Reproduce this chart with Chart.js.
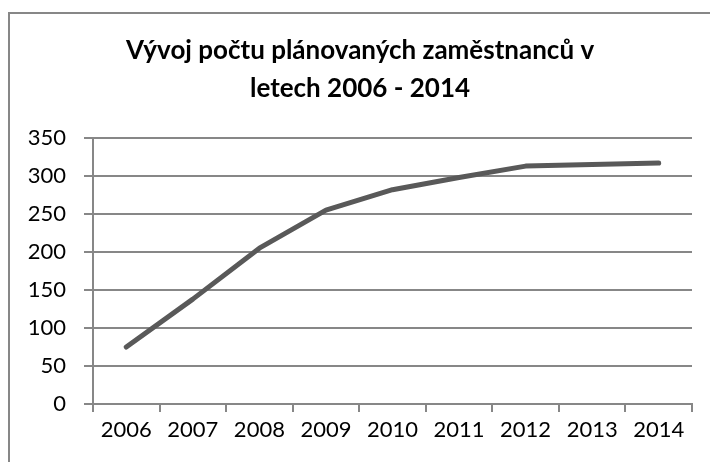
<!DOCTYPE html>
<html>
<head>
<meta charset="utf-8">
<script src="https://cdn.jsdelivr.net/npm/chart.js@4"></script>
<style>
    body { margin: 0; background: #fff; }
    #wrap { position: relative; width: 710px; height: 462px; overflow: hidden; }
    #frame {
        position: absolute; left: 8px; top: 12px; width: 740px; height: 480px;
        border-left: 2px solid #878787; border-top: 2px solid #878787;
    }
    canvas { position: absolute; left: 0; top: 0; }
</style>
</head>
<body>
<div id="wrap">
    <div id="frame"></div>
    <canvas id="chart" width="710" height="462"></canvas>
</div>
<script>
// --- Data ---
const years = ['2006', '2007', '2008', '2009', '2010', '2011', '2012', '2013', '2014'];
const employees = [75, 138, 205, 255, 282, 298, 313, 315, 317];
const titleLines = ['Vývoj počtu plánovaných zaměstnanců v', 'letech 2006 - 2014'];

const gridColor = '#878787';
const fontFamily = 'Lato, "Open Sans", sans-serif';

new Chart(document.getElementById('chart'), {
    type: 'line',
    data: {
        labels: years,
        datasets: [{
            data: employees,
            borderColor: '#595959',
            borderWidth: 5,
            borderCapStyle: 'round',
            borderJoinStyle: 'round',
            pointRadius: 0,
            tension: 0,
            fill: false
        }]
    },
    options: {
        responsive: false,
        animation: false,
        layout: { padding: { left: 28, right: 18, top: 0, bottom: 0 } },
        plugins: {
            legend: { display: false },
            tooltip: { enabled: false },
            title: {
                display: true,
                text: titleLines,
                color: '#000',
                font: { family: fontFamily, size: 26, weight: 'bold', lineHeight: 38 / 26 },
                padding: { top: 32, bottom: 30 }
            }
        },
        scales: {
            x: {
                offset: true,
                afterFit: (scale) => { scale.height = 58; },
                grid: {
                    offset: true,
                    drawOnChartArea: false,
                    color: gridColor,
                    lineWidth: 2,
                    tickLength: 8
                },
                border: { color: gridColor, width: 2 },
                ticks: {
                    color: '#000',
                    padding: 5,
                    maxRotation: 0,
                    font: { family: fontFamily, size: 22 }
                }
            },
            y: {
                min: 0,
                max: 350,
                afterFit: (scale) => { scale.width = 65; },
                grid: {
                    color: gridColor,
                    lineWidth: 2,
                    tickLength: 9
                },
                border: { color: gridColor, width: 2 },
                ticks: {
                    stepSize: 50,
                    color: '#000',
                    padding: 18,
                    font: { family: fontFamily, size: 22 }
                }
            }
        }
    }
});
</script>
</body>
</html>
